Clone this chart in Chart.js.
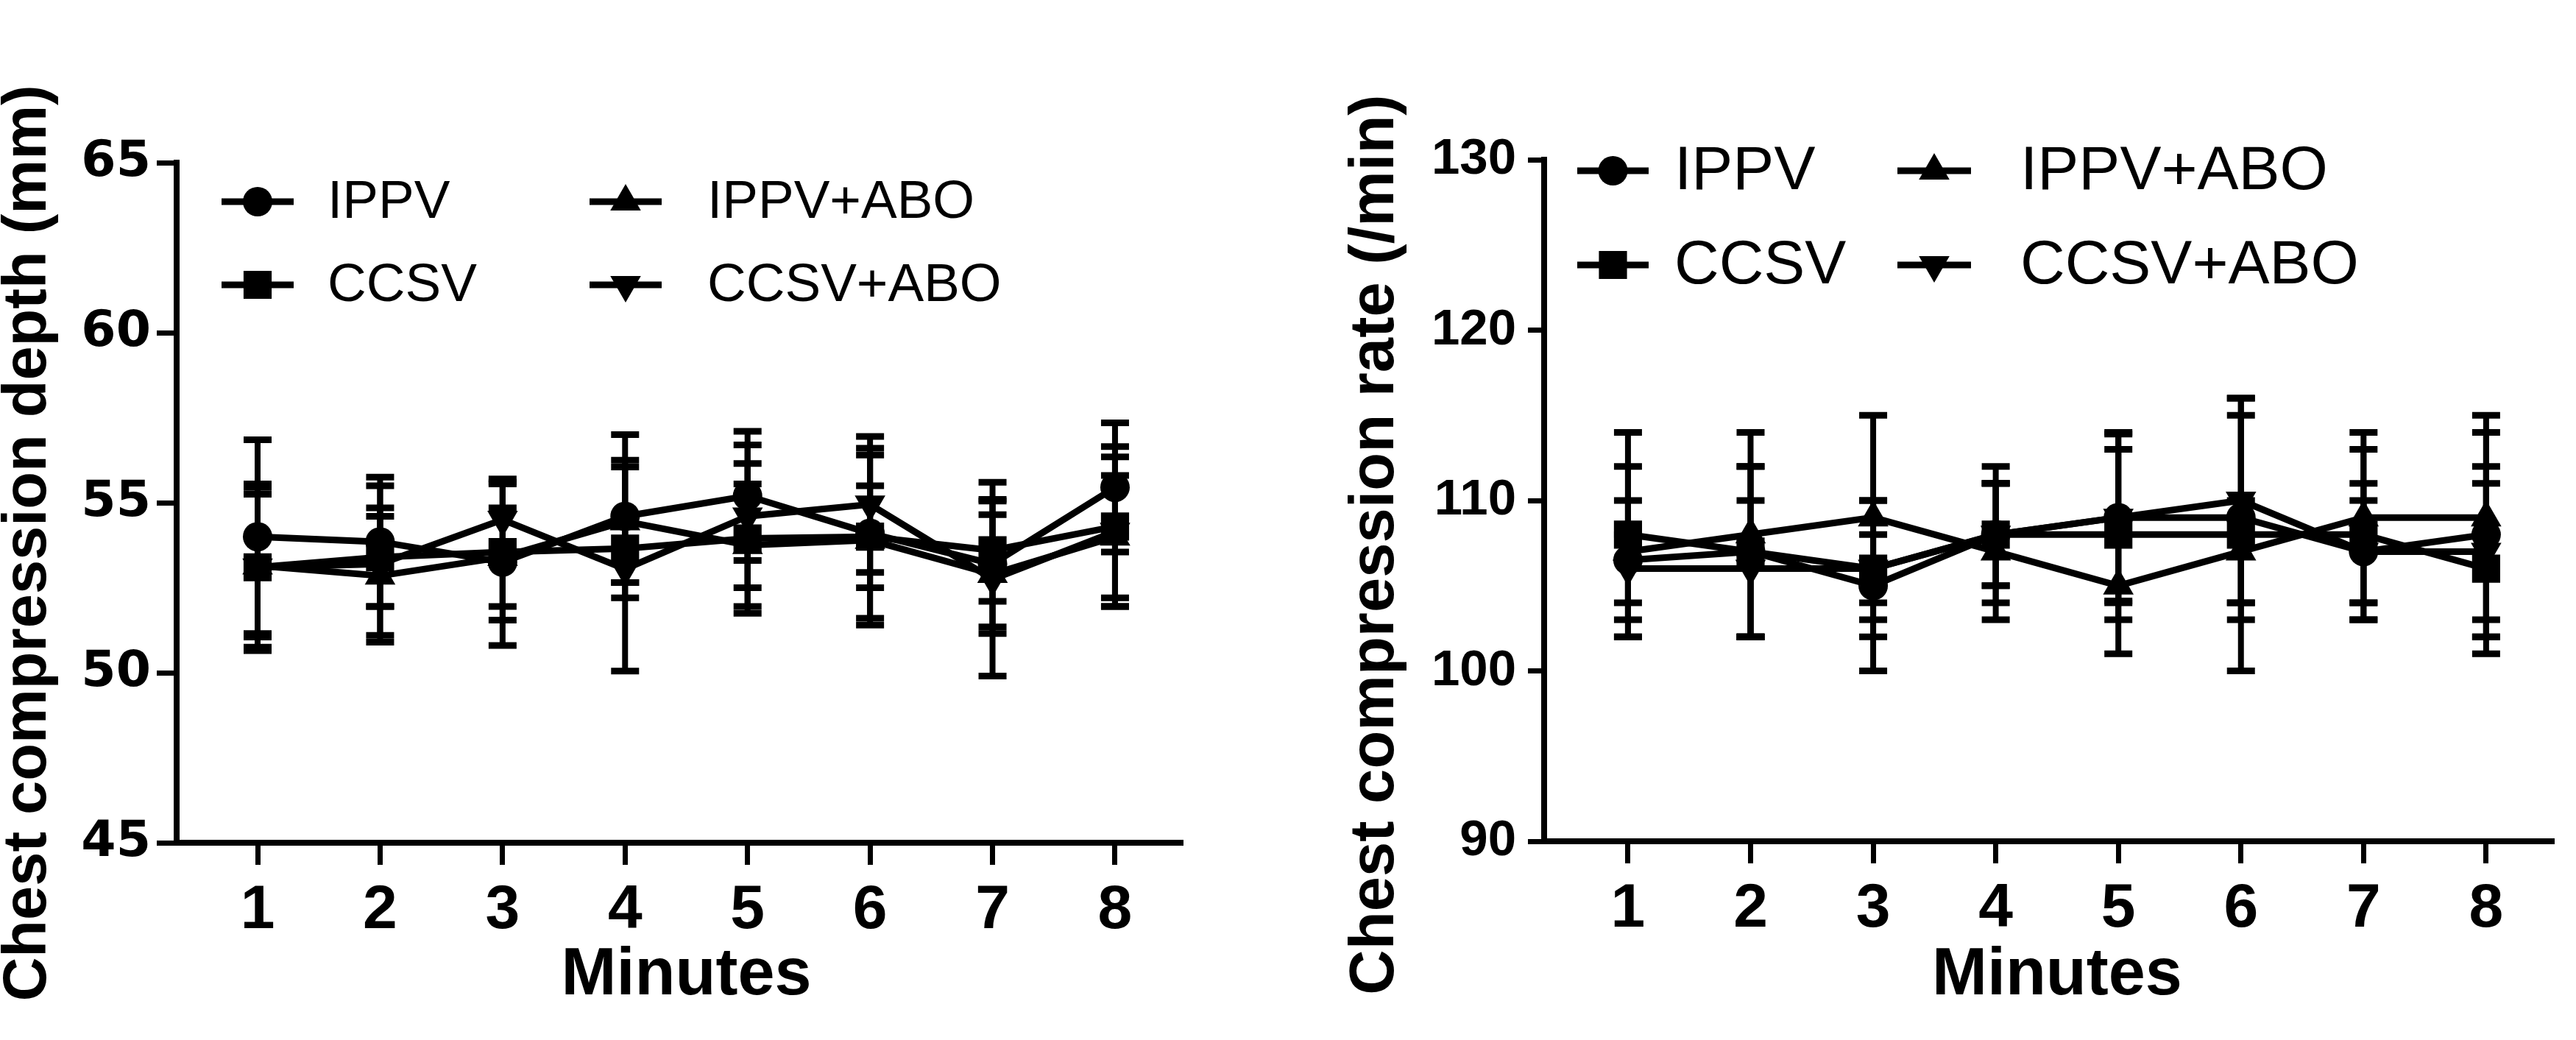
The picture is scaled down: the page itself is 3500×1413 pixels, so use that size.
<!DOCTYPE html>
<html>
<head>
<meta charset="utf-8">
<title>Chest compression depth and rate</title>
<script src="https://cdn.jsdelivr.net/npm/chart.js@4.4.1/dist/chart.umd.min.js"></script>
<style>
  html, body { margin: 0; padding: 0; background: #fff; }
  #wrap { position: relative; width: 3500px; height: 1413px; overflow: hidden; background: #fff; }
  canvas { position: absolute; top: 0; }
  #depth-chart { left: 0; }
  #rate-chart { left: 1750px; }
</style>
</head>
<body>
<div id="wrap">
  <canvas id="depth-chart" width="1750" height="1413"></canvas>
  <canvas id="rate-chart" width="1750" height="1413"></canvas>
</div>
<script>
const minutes = [1, 2, 3, 4, 5, 6, 7, 8];
const groups = ["IPPV", "CCSV", "IPPV+ABO", "CCSV+ABO"];

// Chest compression depth (mm): means and SDs
const depthIPPV = [54.0, 53.85, 53.25, 54.6, 55.2, 54.1, 53.2, 55.45];
const depthCCSV = [53.1, 53.4, 53.55, 53.65, 53.95, 54.0, 53.6, 54.3];
const depthIPPVABO = [53.15, 52.85, 53.4, 54.45, 53.75, 53.9, 52.9, 54.0];
const depthCCSVABO = [53.1, 53.2, 54.5, 53.05, 54.6, 54.95, 52.75, 54.15];
const depthIPPVsd = [2.85, 1.9, 2.45, 2.4, 1.9, 2.5, 1.85, 1.9];
const depthCCSVsd = [2.45, 1.45, 2.0, 1.0, 2.2, 1.5, 1.5, 2.35];
const depthIPPVABOsd = [2.1, 1.75, 1.45, 1.8, 1.8, 2.5, 1.75, 1.8];
const depthCCSVABOsd = [2.35, 2.3, 1.1, 3.0, 2.1, 2.0, 2.85, 2.2];
const depthTicks = [45, 50, 55, 60, 65];

// Chest compression rate (/min)
const rateIPPV = [106.5, 107, 105, 108, 109, 109, 107, 108];
const rateCCSV = [108, 107, 106, 108, 108, 108, 108, 106];
const rateIPPVABO = [107, 108, 109, 107, 105, 107, 109, 109];
const rateCCSVABO = [106, 106, 106, 108, 109, 110, 107, 107];
const rateIPPVsd = [3.5, 5, 5, 4, 5, 6, 4, 6];
const rateCCSVsd = [6, 5, 4, 3, 5, 8, 5, 5];
const rateIPPVABOsd = [5, 6, 6, 4, 4, 3, 5, 6];
const rateCCSVABOsd = [2, 4, 2, 3, 4.9, 6, 3, 5];
const rateTicks = [90, 100, 110, 120, 130];

const FAMILY = '"Liberation Sans", Arial, Helvetica, sans-serif';
const INK = "#000";

const markers = [
  { pointStyle: "circle", radius: 20, rotation: 0 },
  { pointStyle: "rect", radius: 27, rotation: 0 },
  { pointStyle: "triangle", radius: 24, rotation: 0 },
  { pointStyle: "triangle", radius: 24, rotation: 180 },
];

function drawMarker(ctx, m, x, y) {
  ctx.fillStyle = INK;
  if (Chart.helpers && Chart.helpers.drawPoint) {
    Chart.helpers.drawPoint(ctx, { pointStyle: m.pointStyle, radius: m.radius, rotation: m.rotation, borderWidth: 0 }, x, y);
    return;
  }
  ctx.beginPath();
  ctx.arc(x, y, m.radius, 0, Math.PI * 2);
  ctx.fill();
}

// mean +/- SD bars, drawn through the chart scales
const errorBarPlugin = {
  id: "errorBars",
  beforeDatasetsDraw(chart, args, opts) {
    const { ctx } = chart;
    const xs = chart.scales.x;
    const ys = chart.scales.y;
    ctx.save();
    ctx.strokeStyle = INK;
    ctx.lineCap = "butt";
    chart.data.datasets.forEach((ds, i) => {
      const sd = opts.sd[i];
      ds.data.forEach((pt, j) => {
        const px = xs.getPixelForValue(pt.x);
        const top = ys.getPixelForValue(pt.y + sd[j]);
        const bottom = ys.getPixelForValue(pt.y - sd[j]);
        ctx.lineWidth = opts.barWidth;
        ctx.beginPath();
        ctx.moveTo(px, top);
        ctx.lineTo(px, bottom);
        ctx.stroke();
        ctx.lineWidth = opts.capThickness;
        ctx.beginPath();
        ctx.moveTo(px - opts.capWidth / 2, top);
        ctx.lineTo(px + opts.capWidth / 2, top);
        ctx.moveTo(px - opts.capWidth / 2, bottom);
        ctx.lineTo(px + opts.capWidth / 2, bottom);
        ctx.stroke();
      });
    });
    ctx.restore();
  },
};

// GraphPad style legend + axis titles
const decorPlugin = {
  id: "decor",
  afterDraw(chart, args, opts) {
    const ctx = chart.ctx;
    const dx = opts.offsetX;
    ctx.save();
    ctx.fillStyle = INK;
    ctx.strokeStyle = INK;

    ctx.font = `${opts.legendSize}px ${FAMILY}`;
    ctx.textAlign = "left";
    ctx.textBaseline = "middle";
    opts.legend.forEach((e, i) => {
      ctx.lineWidth = 9;
      ctx.beginPath();
      ctx.moveTo(e.x0 - dx, e.y);
      ctx.lineTo(e.x1 - dx, e.y);
      ctx.stroke();
      drawMarker(ctx, markers[i], (e.x0 + e.x1) / 2 - dx, e.y);
      ctx.fillStyle = INK;
      ctx.fillText(groups[i], e.tx - dx, e.y + 2);
    });

    ctx.font = `bold ${opts.titleSize}px ${FAMILY}`;
    ctx.textAlign = "center";
    ctx.save();
    ctx.translate(opts.yTitleX - dx, opts.yTitleY);
    ctx.rotate(-Math.PI / 2);
    ctx.fillText(opts.yTitle, 0, 0);
    ctx.restore();

    const xs = chart.scales.x;
    const cx = (xs.getPixelForValue(minutes[0]) + xs.getPixelForValue(minutes[minutes.length - 1])) / 2;
    ctx.font = `bold ${opts.xTitleSize}px ${FAMILY}`;
    ctx.fillText("Minutes", cx, opts.xTitleY);
    ctx.restore();
  },
};

function makeChart(id, cfg) {
  const datasets = cfg.series.map((values, i) => ({
    label: groups[i],
    data: minutes.map((m, j) => ({ x: m, y: values[j] })),
    borderColor: INK,
    backgroundColor: INK,
    borderWidth: 9,
    tension: 0,
    pointStyle: markers[i].pointStyle,
    pointRadius: markers[i].radius,
    pointHoverRadius: markers[i].radius,
    pointRotation: markers[i].rotation,
    pointBackgroundColor: INK,
    pointBorderWidth: 0,
  }));

  return new Chart(document.getElementById(id), {
    type: "line",
    data: { datasets },
    plugins: [errorBarPlugin, decorPlugin],
    options: {
      responsive: false,
      animation: false,
      devicePixelRatio: 1,
      layout: { padding: { left: 0, top: cfg.top, right: cfg.right, bottom: 0 } },
      plugins: {
        legend: { display: false },
        tooltip: { enabled: false },
        errorBars: { sd: cfg.sd, barWidth: 8, capWidth: 38, capThickness: 9 },
        decor: cfg.decor,
      },
      scales: {
        x: {
          type: "linear",
          min: cfg.xMin,
          max: cfg.xMax,
          afterBuildTicks: (scale) => { scale.ticks = minutes.map((v) => ({ value: v })); },
          afterFit: (scale) => { scale.height = 1413 - cfg.bottom; },
          grid: { display: true, drawOnChartArea: false, drawTicks: true, tickLength: 30, tickWidth: 7, tickColor: INK },
          border: { display: true, color: INK, width: 8 },
          ticks: { color: INK, padding: 12, maxRotation: 0, font: { family: FAMILY, size: 84, weight: "bold" } },
        },
        y: {
          min: cfg.yTicks[0],
          max: cfg.yTicks[cfg.yTicks.length - 1],
          afterBuildTicks: (scale) => { scale.ticks = cfg.yTicks.map((v) => ({ value: v })); },
          afterFit: (scale) => { scale.width = cfg.axisX; },
          grid: { display: true, drawOnChartArea: false, drawTicks: true, tickLength: cfg.yTickLength, tickWidth: 7, tickColor: INK },
          border: { display: true, color: INK, width: 8 },
          ticks: { color: INK, padding: cfg.yPad, font: cfg.yFont },
        },
      },
    },
  });
}

document.addEventListener("DOMContentLoaded", () => {
  makeChart("depth-chart", {
    series: [depthIPPV, depthCCSV, depthIPPVABO, depthCCSVABO],
    sd: [depthIPPVsd, depthCCSVsd, depthIPPVABOsd, depthCCSVABOsd],
    yTicks: depthTicks,
    xMin: 0.339, xMax: 8.553,
    top: 221, bottom: 1145, right: 143, axisX: 240,
    yTickLength: 27, yPad: 8,
    yFont: { family: '"DejaVu Sans", Verdana, sans-serif', size: 68, weight: "bold" },
    decor: {
      offsetX: 0,
      legendSize: 73,
      legend: [
        { x0: 301, x1: 399, tx: 445, y: 274 },
        { x0: 301, x1: 399, tx: 445, y: 387 },
        { x0: 801, x1: 899, tx: 961, y: 274 },
        { x0: 801, x1: 899, tx: 961, y: 387 },
      ],
      titleSize: 83,
      yTitle: "Chest compression depth (mm)",
      yTitleX: 39, yTitleY: 738,
      xTitleSize: 90, xTitleY: 1326,
    },
  });

  makeChart("rate-chart", {
    series: [rateIPPV, rateCCSV, rateIPPVABO, rateCCSVABO],
    sd: [rateIPPVsd, rateCCSVsd, rateIPPVABOsd, rateCCSVABOsd],
    yTicks: rateTicks,
    xMin: 0.316, xMax: 8.553,
    top: 217, bottom: 1143, right: 30, axisX: 348,
    yTickLength: 22, yPad: 16,
    yFont: { family: FAMILY, size: 69, weight: "bold" },
    decor: {
      offsetX: 1750,
      legendSize: 84,
      legend: [
        { x0: 2143, x1: 2240, tx: 2275, y: 232 },
        { x0: 2143, x1: 2240, tx: 2275, y: 360 },
        { x0: 2578, x1: 2678, tx: 2745, y: 232 },
        { x0: 2578, x1: 2678, tx: 2745, y: 360 },
      ],
      titleSize: 85,
      yTitle: "Chest compression rate (/min)",
      yTitleX: 1870, yTitleY: 740,
      xTitleSize: 90, xTitleY: 1326,
    },
  });
});
</script>
</body>
</html>
